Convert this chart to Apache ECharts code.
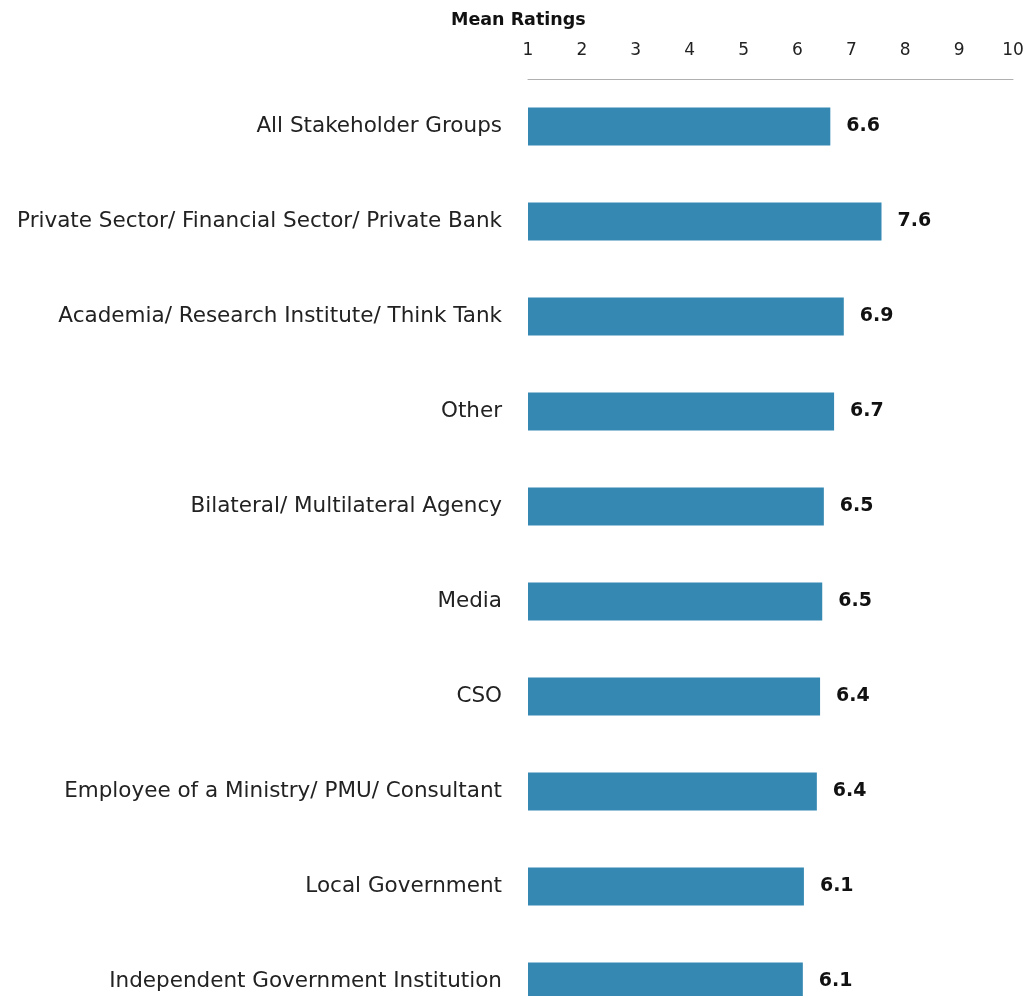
<!DOCTYPE html>
<html>
<head>
<meta charset="utf-8">
<script src="https://cdn.jsdelivr.net/npm/echarts@6/dist/echarts.min.js"></script>
<style>
  html, body { margin: 0; padding: 0; background: #fff; overflow: hidden; }
  /* the last bar runs off the bottom of the picture, so the chart is taller than the window */
  #chart { width: 1027px; height: 1029px; }
</style>
</head>
<body>
<div id="chart"></div>
<script>
  // stakeholder groups, top to bottom
  var groups = [
    'All Stakeholder Groups',
    'Private Sector/ Financial Sector/ Private Bank',
    'Academia/ Research Institute/ Think Tank',
    'Other',
    'Bilateral/ Multilateral Agency',
    'Media',
    'CSO',
    'Employee of a Ministry/ PMU/ Consultant',
    'Local Government',
    'Independent Government Institution'
  ]
  var meanRatings = [6.61, 7.56, 6.86, 6.68, 6.49, 6.46, 6.42, 6.36, 6.12, 6.1]
  var ratingTicks = [1, 2, 3, 4, 5, 6, 7, 8, 9, 10]

  var font = 'DejaVu Sans'
  var chart = echarts.init(document.getElementById('chart'))

  chart.setOption({
    animation: false,
    title: {
      text: 'Mean Ratings',
      left: 446,
      top: 6,
      textStyle: {
        fontFamily: font,
        fontSize: 17.5,
        fontWeight: 'bold',
        color: '#111'
      }
    },
    grid: {
      left: 528,
      right: 14,
      top: 79,
      bottom: 0
    },
    xAxis: {
      type: 'value',
      position: 'top',
      min: ratingTicks[0],
      max: ratingTicks[ratingTicks.length - 1],
      interval: 1,
      axisLine: { show: true, lineStyle: { color: '#b0b0b0', width: 1 } },
      axisTick: { show: false },
      splitLine: { show: false },
      axisLabel: {
        margin: 20,
        fontFamily: font,
        fontSize: 17,
        color: '#222'
      }
    },
    yAxis: {
      type: 'category',
      inverse: true,
      data: groups,
      axisLine: { show: false },
      axisTick: { show: false },
      axisLabel: {
        margin: 26,
        fontFamily: font,
        fontSize: 21.5,
        color: '#222'
      }
    },
    series: [{
      type: 'bar',
      data: meanRatings,
      barWidth: 38,
      itemStyle: { color: '#3488b2' },
      label: {
        show: true,
        position: 'right',
        distance: 16,
        fontFamily: font,
        fontSize: 19,
        fontWeight: 'bold',
        color: '#111',
        formatter: function (p) {
          return p.value.toFixed(1)
        }
      }
    }]
  })
</script>
</body>
</html>
